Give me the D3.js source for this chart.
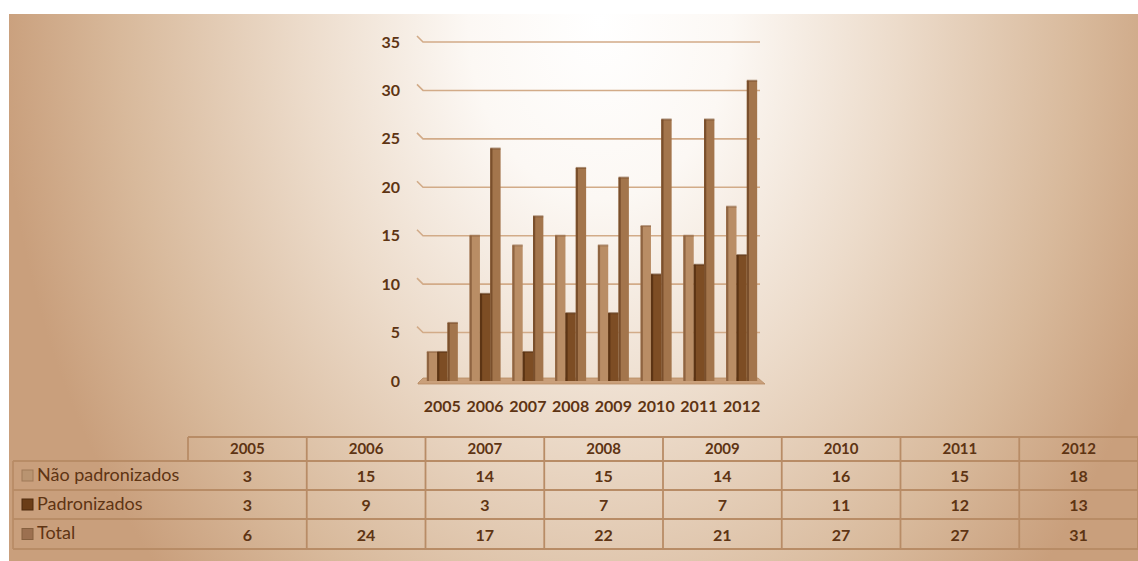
<!DOCTYPE html>
<html>
<head>
<meta charset="utf-8">
<script src="https://cdn.jsdelivr.net/npm/d3@7"></script>
<style>
  body { margin: 0; background: #fff; }
  svg { display: block; }
  text { font-family: Lato, "Open Sans", sans-serif; }
</style>
</head>
<body>
<div id="graph"></div>
<script>
var years = ['2005', '2006', '2007', '2008', '2009', '2010', '2011', '2012']
var seriesNames = ['Não padronizados', 'Padronizados', 'Total']
var naoPadronizados = [3, 15, 14, 15, 14, 16, 15, 18]
var padronizados = [3, 9, 3, 7, 7, 11, 12, 13]
var total = [6, 24, 17, 22, 21, 27, 27, 31]
var yTicks = [0, 5, 10, 15, 20, 25, 30, 35]

var series = [naoPadronizados, padronizados, total]
var colors = ['#b98d65', '#7d4d24', '#a3754c']
var sideColors = ['#8f6441', '#5c3414', '#7a4f2c']
var legendFill = ['#b99471', '#6b3d17', '#9c7050']
var legendStroke = ['#a07a58', '#4f2a0c', '#86603f']
var textColor = '#5e3413'

var width = 1138, height = 561

var svg = d3.select('#graph').append('svg')
  .attr('width', width).attr('height', height)

// background panel: elliptical fade from white near top centre to tan
var defs = svg.append('defs')
var grad = defs.append('radialGradient').attr('id', 'bg')
  .attr('gradientUnits', 'userSpaceOnUse')
  .attr('cx', 600).attr('cy', 20).attr('r', 600)
  .attr('gradientTransform', 'translate(600,20) scale(1,1.35) translate(-600,-20)')
;[[0, '#ffffff'], [0.22, '#fcf8f4'], [0.5, '#ecdbca'], [0.8, '#d8b99b'], [1, '#c99f7c']].forEach(d => {
  grad.append('stop').attr('offset', d[0]).attr('stop-color', d[1])
})
svg.append('rect').attr('x', 9).attr('y', 14).attr('width', width - 9).attr('height', 547)
  .attr('fill', 'url(#bg)')

// scales
var x = d3.scaleBand().domain(years).range([420, 764]).paddingInner(0.275).paddingOuter(0.16)
var y = d3.scaleLinear().domain([0, 35]).range([381, 42])
var xs = d3.scaleBand().domain(d3.range(3)).range([0, x.bandwidth()])

// gridlines with a short slanted back edge
var grid = svg.append('g')
grid.selectAll('path').data(yTicks.slice(1)).join('path')
  .attr('d', d => `M417,${y(d) - 6}L423,${y(d)}L760,${y(d)}`)
  .attr('fill', 'none').attr('stroke', '#d2ab88').attr('stroke-width', 1.6)

// floor
svg.append('path')
  .attr('d', `M418,${y(0) + 2}L423,${y(0) - 3}L758,${y(0) - 3}L765,${y(0) + 3}L418,${y(0) + 3}Z`)
  .attr('fill', '#caa07b').attr('stroke', '#b68a62').attr('stroke-width', 0.8)

// y axis labels
svg.append('g').selectAll('text').data(yTicks).join('text')
  .attr('x', 400).attr('y', d => y(d)).attr('dy', '0.35em')
  .attr('text-anchor', 'end')
  .attr('font-size', 16).attr('font-weight', 'bold').attr('fill', textColor)
  .text(d => d)

// bars
var groups = svg.append('g').selectAll('g').data(years).join('g')
  .attr('transform', d => `translate(${x(d)},0)`)

groups.each(function(yr, i) {
  var g = d3.select(this)
  series.forEach((s, k) => {
    var v = s[i]
    var bx = xs(k), bw = xs.bandwidth()
    g.append('rect')
      .attr('x', bx).attr('y', y(v)).attr('width', bw).attr('height', y(0) - y(v))
      .attr('fill', colors[k])
    g.append('rect')
      .attr('x', bx).attr('y', y(v)).attr('width', 2.2).attr('height', y(0) - y(v))
      .attr('fill', sideColors[k])
    g.append('rect')
      .attr('x', bx).attr('y', y(v) - 1).attr('width', bw).attr('height', 2)
      .attr('fill', sideColors[k]).attr('opacity', 0.6)
  })
})

// x labels
svg.append('g').selectAll('text').data(years).join('text')
  .attr('x', d => x(d) + x.bandwidth() / 2).attr('y', 412)
  .attr('text-anchor', 'middle')
  .attr('font-size', 16).attr('font-weight', 'bold').attr('fill', textColor)
  .text(d => d)

// data table
var tx = d3.scaleBand().domain(years).range([188, 1138])
var rowTop = [437, 461, 490, 519, 549]
var lineColor = '#b88c66'
var table = svg.append('g')

// header row
table.append('path')
  .attr('d', `M188,${rowTop[0]}L1138,${rowTop[0]}M188,${rowTop[0]}L188,${rowTop[1]}`)
  .attr('stroke', lineColor).attr('stroke-width', 1.8).attr('fill', 'none')
// body outline + horizontal rules
rowTop.slice(1).forEach(r => {
  table.append('line').attr('x1', 13).attr('x2', 1138).attr('y1', r).attr('y2', r)
    .attr('stroke', lineColor).attr('stroke-width', 1.8)
})
table.append('line').attr('x1', 13).attr('x2', 13).attr('y1', rowTop[1]).attr('y2', rowTop[4])
  .attr('stroke', lineColor).attr('stroke-width', 1.8)
years.forEach(yr => {
  table.append('line').attr('x1', tx(yr) + tx.bandwidth()).attr('x2', tx(yr) + tx.bandwidth())
    .attr('y1', rowTop[0]).attr('y2', rowTop[4])
    .attr('stroke', lineColor).attr('stroke-width', 1.8)
})

table.selectAll('text.head').data(years).join('text').attr('class', 'head')
  .attr('x', d => tx(d) + tx.bandwidth() / 2).attr('y', (rowTop[0] + rowTop[1]) / 2)
  .attr('dy', '0.35em').attr('text-anchor', 'middle')
  .attr('font-size', 15).attr('font-weight', 'bold').attr('fill', textColor)
  .text(d => d)

series.forEach((s, k) => {
  var cy = (rowTop[k + 1] + rowTop[k + 2]) / 2
  table.append('rect')
    .attr('x', 22).attr('y', cy - 5.5).attr('width', 11).attr('height', 11)
    .attr('fill', legendFill[k])
    .attr('stroke', legendStroke[k]).attr('stroke-width', 1)
  table.append('text')
    .attr('x', 37).attr('y', cy - 1).attr('dy', '0.35em')
    .attr('font-size', 18).attr('fill', textColor)
    .text(seriesNames[k])
  table.selectAll(null).data(s).join('text')
    .attr('x', (d, i) => tx(years[i]) + tx.bandwidth() / 2).attr('y', cy + 1)
    .attr('dy', '0.35em').attr('text-anchor', 'middle')
    .attr('font-size', 16).attr('font-weight', 'bold').attr('fill', textColor)
    .text(d => d)
})
</script>
</body>
</html>
